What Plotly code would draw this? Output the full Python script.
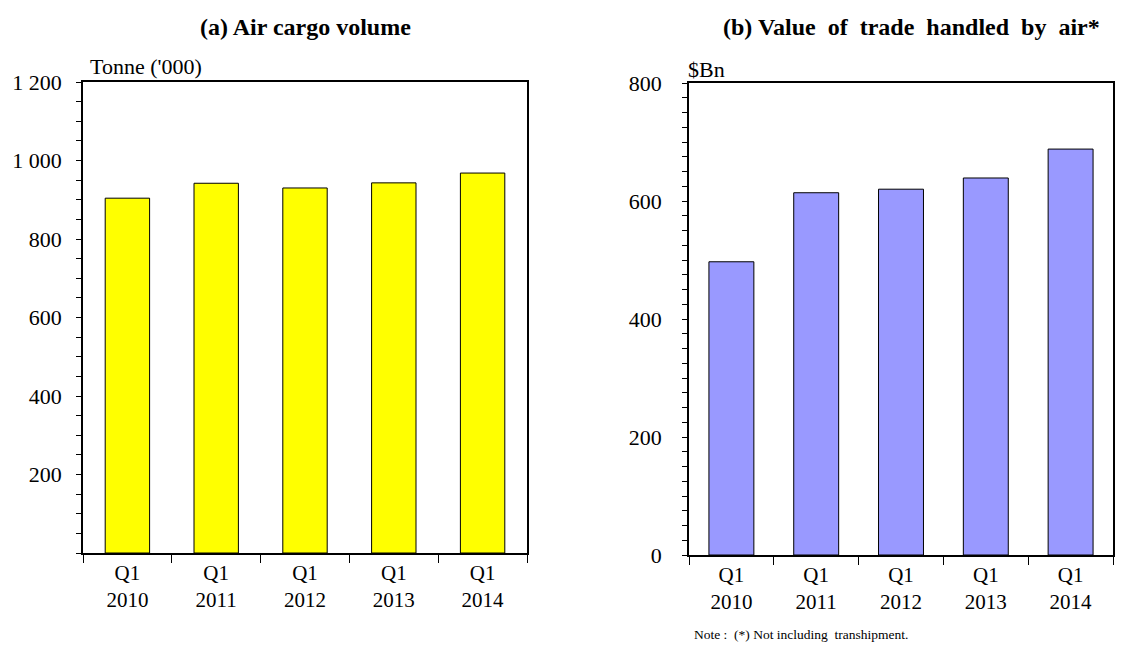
import plotly.graph_objects as go

quarters = ['Q1<br>2010', 'Q1<br>2011', 'Q1<br>2012', 'Q1<br>2013', 'Q1<br>2014']
cargo_tonnes = [904, 942, 930, 943, 968]
trade_value = [497, 614, 620, 639, 688]

left_ticks = [200, 400, 600, 800, 1000, 1200]
left_ticktext = ['200', '400', '600', '800', '1 000', '1 200']
right_ticks = [0, 200, 400, 600, 800]
right_ticktext = ['0', '200', '400', '600', '800']

W, H = 1126, 645
font = 'Liberation Serif'
NB = '\u00a0'


def px(x):
    return x / W


def py(y):
    return (H - y) / H


fig = go.Figure()
fig.add_trace(go.Bar(x=quarters, y=cargo_tonnes, xaxis='x', yaxis='y',
                     marker=dict(color='#FFFF00', line=dict(color='#000000', width=1)),
                     width=0.5, showlegend=False))
fig.add_trace(go.Bar(x=quarters, y=trade_value, xaxis='x2', yaxis='y2',
                     marker=dict(color='#9999FF', line=dict(color='#000000', width=1)),
                     width=0.53, showlegend=False))

xcommon = dict(type='category', showline=True, linecolor='#000000', linewidth=1.5,
               mirror=True, ticks='outside', ticklen=8, tickcolor='#000000',
               tickson='boundaries', showgrid=False, automargin=False,
               tickfont=dict(family=font, size=21, color='#000000'))
ycommon = dict(showline=True, linecolor='#000000', linewidth=1.5, mirror=True,
               ticks='outside', ticklen=5, tickcolor='#000000', showgrid=False,
               zeroline=False, automargin=False,
               tickfont=dict(family=font, size=22, color='#000000'))

fig.update_layout(
    width=W, height=H,
    margin=dict(l=0, r=0, t=0, b=0),
    paper_bgcolor='white', plot_bgcolor='white',
    xaxis=dict(xcommon, domain=[px(83), px(527)], anchor='y'),
    yaxis=dict(ycommon, domain=[py(553), py(82)], anchor='x',
               range=[0, 1200], tickvals=left_ticks, ticktext=left_ticktext,
               ticklabelstandoff=10,
               minor=dict(dtick=50, ticks='outside', ticklen=5, tickcolor='#000000')),
    xaxis2=dict(xcommon, domain=[px(689), px(1113)], anchor='y2'),
    yaxis2=dict(ycommon, domain=[py(555), py(83)], anchor='x2',
                range=[0, 800], tickvals=right_ticks, ticktext=right_ticktext,
                ticklabelstandoff=16,
                minor=dict(dtick=25, ticks='outside', ticklen=5, tickcolor='#000000')),
    annotations=[
        dict(text='<b>(a) Air cargo volume</b>', x=px(305), y=py(27),
             xanchor='center', yanchor='middle',
             xref='paper', yref='paper', showarrow=False,
             font=dict(family=font, size=24, color='#000000')),
        dict(text='<b>(b) Value' + NB + ' of' + NB + ' trade' + NB + ' handled' + NB + ' by' + NB + ' air*</b>',
             x=px(911), y=py(27), xanchor='center', yanchor='middle',
             xref='paper', yref='paper', showarrow=False,
             font=dict(family=font, size=24, color='#000000')),
        dict(text="Tonne ('000)", x=px(88), y=py(67), xanchor='left', yanchor='middle',
             xref='paper', yref='paper', showarrow=False,
             font=dict(family=font, size=22, color='#000000')),
        dict(text='$Bn', x=px(686), y=py(69), xanchor='left', yanchor='middle',
             xref='paper', yref='paper', showarrow=False,
             font=dict(family=font, size=22, color='#000000')),
        dict(text='Note :' + NB + ' (*) Not including' + NB + ' transhipment.',
             x=px(692), y=py(634), xanchor='left', yanchor='middle',
             xref='paper', yref='paper', showarrow=False,
             font=dict(family=font, size=13.5, color='#000000')),
    ],
)

# drop the default 8px page margin so the figure fills the window exactly
fig.write_html('out.html', config={'displayModeBar': False},
               post_script="document.body.style.margin='0px';")
